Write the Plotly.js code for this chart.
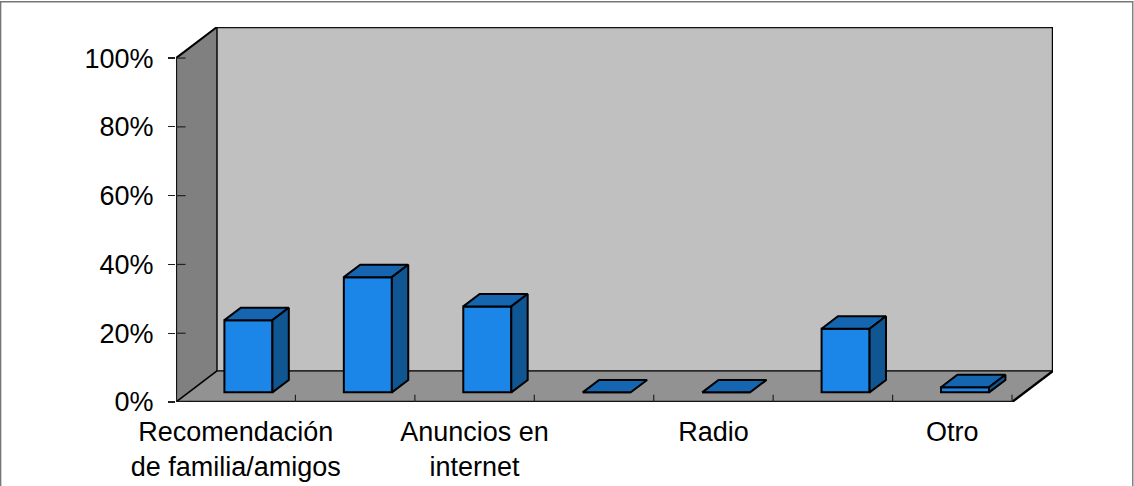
<!DOCTYPE html>
<html>
<head>
<meta charset="utf-8">
<script src="https://cdn.plot.ly/plotly-3.0.1.min.js"></script>
<style>html,body{margin:0;padding:0;background:#fff;overflow:hidden}#chart{width:1134px;height:486px}</style>
</head>
<body>
<div id="chart"></div>
<script>
// Survey shares per category slot, in percent
const barValues = [21, 33.5, 25, 0, 0, 18.5, 1.5];
const labelSlots = [0.5, 2.5, 4.5, 6.5];
const labelTexts = ["Recomendación<br>de familia/amigos", "Anuncios en<br>internet", "Radio", "Otro"];
const percentTicks = [0, 20, 40, 60, 80, 100];
const percentLabels = ["0%", "20%", "40%", "60%", "80%", "100%"];

// Pseudo-3D projection: depth shifts a point right and up, in axis units
const W = 1134, H = 486;
const margin = {l: 176, r: 80.8, t: 27, b: 84, pad: 0};
const depthX = 0.343, depthY = 9.04;
const slotCount = barValues.length;
const barWidth = 0.402;
const project = (x, y, d) => [x + depthX * d, y + depthY * d];
const pathOf = pts => 'M' + pts.map(p => p.join(',')).join('L') + 'Z';

function wall(pts, fill) {
  return {type: 'path', xref: 'x', yref: 'y', layer: 'below', path: pathOf(pts), fillcolor: fill,
          line: {color: 'rgba(0,0,0,0)', width: 0}};
}
function edge(a, b, color, width) {
  return {type: 'line', xref: 'x', yref: 'y', layer: 'below', x0: a[0], y0: a[1], x1: b[0], y1: b[1],
          line: {color: color, width: width}};
}

const f00 = project(0, 0, 0), f01 = project(0, 100, 0);
const b00 = project(0, 0, 1), b01 = project(0, 100, 1);
const f70 = project(slotCount, 0, 0);
const b70 = project(slotCount, 0, 1), b71 = project(slotCount, 100, 1);

const shapes = [
  wall([b00, b01, b71, b70], '#c0c0c0'),
  wall([f00, f01, b01, b00], '#808080'),
  wall([f00, b00, b70, f70], '#929292'),
  edge(b00, b70, '#2a2a2a', 1.6),
  edge(b00, b01, '#111', 1.6),
  edge(f00, b00, '#000', 1.6),
  edge(f01, b01, '#000', 2),
  edge(b01, b71, '#111', 2.4),
  edge(b71, b70, '#000', 2.4),
  edge(b70, f70, '#000', 2.4),
  edge(f00, f70, '#111', 2.4),
  edge(f00, f01, '#111', 2.2)
];

// Thin frame around the whole figure, converted from pixels to paper units
const plotW = W - margin.l - margin.r, plotH = H - margin.t - margin.b;
shapes.push({type: 'rect', xref: 'paper', yref: 'paper', layer: 'below',
  x0: (0.6 - margin.l) / plotW, x1: (1133 - margin.l) / plotW,
  y0: (H - 495 - margin.b) / plotH, y1: (H - 1.8 - margin.b) / plotH,
  fillcolor: 'rgba(0,0,0,0)', line: {color: '#777', width: 1.4}});

const barFront = 0.31, barBack = 0.71;
const centers = barValues.map((_, i) => i + 0.5 + depthX * barFront);
const baseY = depthY * barFront;

const traces = [{
  type: 'bar', x: centers, y: barValues, base: barValues.map(() => baseY), width: barWidth,
  marker: {color: '#1b86e8', line: {color: '#000', width: 2}}, hoverinfo: 'skip'
}];

function faceTrace(pts, fill) {
  const closed = pts.concat([pts[0]]);
  return {type: 'scatter', mode: 'lines', x: closed.map(p => p[0]), y: closed.map(p => p[1]), fill: 'toself',
          fillcolor: fill, line: {color: '#000', width: 2}, hoverinfo: 'skip'};
}
barValues.forEach((v, i) => {
  const x0 = i + 0.5 - barWidth / 2, x1 = i + 0.5 + barWidth / 2;
  const a = project(x0, v, barFront), b = project(x1, v, barFront);
  const c = project(x1, v, barBack), e = project(x0, v, barBack);
  traces.push(faceTrace([a, b, c, e], '#1565b0'));
  if (v > 0) {
    traces.push(faceTrace([b, project(x1, 0, barFront), project(x1, 0, barBack), c], '#105692'));
  }
});

// Category boundary ticks on the floor and inner parts of the percent ticks
const tickX = [], tickY = [];
for (let i = 0; i <= slotCount; i++) { tickX.push(i, i, null); tickY.push(0, 2.1, null); }
percentTicks.forEach(t => { tickX.push(0, 0.08, null); tickY.push(t, t, null); });
traces.push({type: 'scatter', mode: 'lines', x: tickX, y: tickY, line: {color: '#222', width: 1.2}, hoverinfo: 'skip'});

const layout = {
  width: W, height: H, margin: margin, showlegend: false, paper_bgcolor: '#fff', plot_bgcolor: 'rgba(0,0,0,0)',
  font: {family: '"Liberation Sans", Arial, sans-serif', size: 27, color: '#000'},
  xaxis: {type: 'linear', range: [0, slotCount + depthX], tickmode: 'array', tickvals: labelSlots, ticktext: labelTexts,
          ticks: '', showgrid: false, zeroline: false, showline: false, fixedrange: true, ticklabelstandoff: 11},
  yaxis: {type: 'linear', range: [0, 100 + depthY], tickmode: 'array', tickvals: percentTicks, ticktext: percentLabels,
          ticks: 'outside', ticklen: 7, tickwidth: 1.2, tickcolor: '#222', showgrid: false, zeroline: false,
          showline: false, fixedrange: true, ticklabelstandoff: 9},
  shapes: shapes
};
Plotly.newPlot('chart', traces, layout, {displayModeBar: false, staticPlot: true});
</script>
</body>
</html>
